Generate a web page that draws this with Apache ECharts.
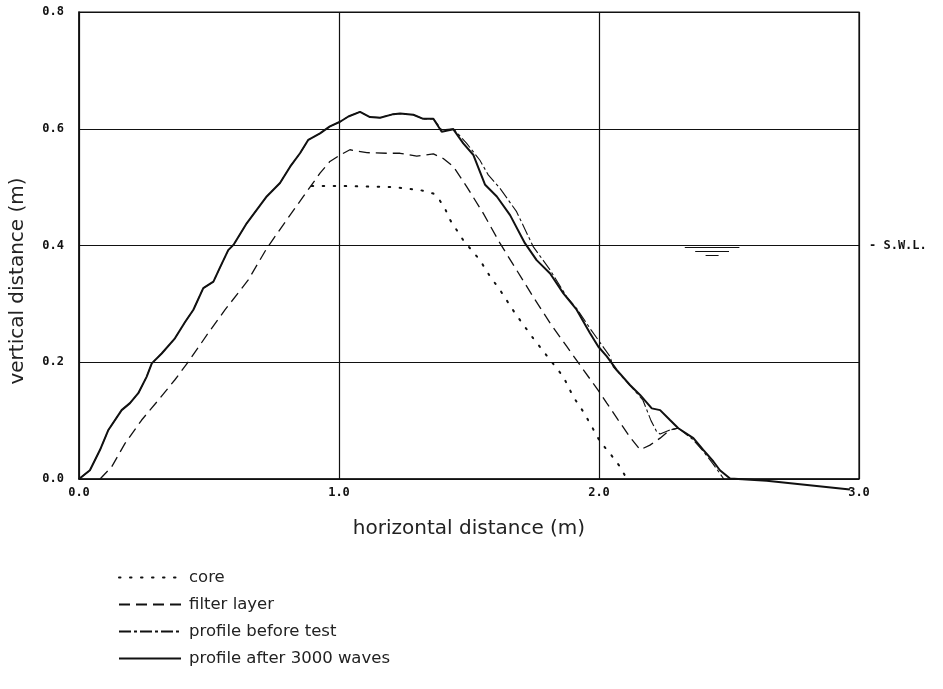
<!DOCTYPE html>
<html>
<head>
<meta charset="utf-8">
<script src="https://cdn.jsdelivr.net/npm/echarts@6/dist/echarts.min.js"></script>
<style>
html,body{margin:0;padding:0;background:#fff;}
#chart{width:943px;height:689px;}
</style>
</head>
<body>
<div id="chart"></div>
<script>
// ---- data (x in m, y in m) ----
var xTicks = [0, 1, 2, 3];
var yTicks = [0, 0.2, 0.4, 0.6, 0.8];
var seriesNames = ['core', 'filter layer', 'profile before test', 'profile after 3000 waves'];

var core = [[0.895,0.502],[1.0,0.502],[1.1,0.501],[1.209,0.5],[1.312,0.495],[1.363,0.489],[1.388,0.477],[1.408,0.463],[1.427,0.444],[1.478,0.409],[1.542,0.375],[1.581,0.347],[1.619,0.324],[1.677,0.284],[1.747,0.241],[1.812,0.204],[1.863,0.175],[1.901,0.141],[1.94,0.115],[1.972,0.09],[2.004,0.064],[2.042,0.044],[2.081,0.021],[2.107,0.0]];

var filterLayer = [[0.081,0],[0.126,0.021],[0.177,0.061],[0.241,0.101],[0.305,0.135],[0.369,0.17],[0.421,0.201],[0.497,0.25],[0.562,0.29],[0.651,0.341],[0.722,0.395],[0.799,0.444],[0.863,0.484],[0.927,0.524],[0.965,0.544],[1.004,0.555],[1.042,0.564],[1.107,0.559],[1.183,0.558],[1.235,0.558],[1.299,0.553],[1.363,0.557],[1.401,0.549],[1.44,0.535],[1.491,0.501],[1.555,0.455],[1.619,0.404],[1.683,0.358],[1.747,0.312],[1.812,0.267],[1.876,0.227],[1.94,0.187],[1.997,0.152],[2.03,0.13],[2.074,0.101],[2.119,0.072],[2.158,0.05],[2.196,0.058],[2.235,0.07],[2.273,0.084],[2.305,0.087]];

var beforeTest = [[0,0],[0.042,0.015],[0.081,0.05],[0.113,0.084],[0.164,0.118],[0.196,0.13],[0.228,0.147],[0.26,0.175],[0.28,0.198],[0.318,0.215],[0.369,0.241],[0.408,0.269],[0.44,0.29],[0.478,0.327],[0.517,0.338],[0.542,0.362],[0.574,0.392],[0.594,0.401],[0.645,0.438],[0.722,0.484],[0.773,0.507],[0.812,0.535],[0.85,0.558],[0.882,0.581],[0.927,0.592],[0.965,0.604],[1.004,0.612],[1.036,0.621],[1.081,0.629],[1.119,0.62],[1.158,0.619],[1.209,0.625],[1.235,0.626],[1.286,0.624],[1.324,0.617],[1.363,0.617],[1.395,0.598],[1.44,0.6],[1.491,0.575],[1.542,0.546],[1.574,0.521],[1.619,0.498],[1.683,0.458],[1.747,0.398],[1.812,0.358],[1.876,0.312],[1.914,0.292],[1.97,0.255],[2.042,0.21],[2.055,0.192],[2.12,0.16],[2.169,0.135],[2.2,0.1],[2.222,0.081],[2.235,0.077],[2.273,0.084],[2.305,0.087],[2.36,0.068],[2.4,0.048],[2.44,0.025],[2.48,0.0]];

var after3000 = [[0,0],[0.042,0.015],[0.081,0.05],[0.113,0.084],[0.164,0.118],[0.196,0.13],[0.228,0.147],[0.26,0.175],[0.28,0.198],[0.318,0.215],[0.369,0.241],[0.408,0.269],[0.44,0.29],[0.478,0.327],[0.517,0.338],[0.542,0.362],[0.574,0.392],[0.594,0.401],[0.645,0.438],[0.722,0.484],[0.773,0.507],[0.812,0.535],[0.85,0.558],[0.882,0.581],[0.927,0.592],[0.965,0.604],[1.004,0.612],[1.036,0.621],[1.081,0.629],[1.119,0.62],[1.158,0.619],[1.209,0.625],[1.235,0.626],[1.286,0.624],[1.324,0.617],[1.363,0.617],[1.395,0.595],[1.44,0.599],[1.478,0.575],[1.517,0.555],[1.562,0.504],[1.607,0.484],[1.658,0.452],[1.715,0.404],[1.76,0.375],[1.812,0.352],[1.863,0.318],[1.914,0.29],[1.965,0.25],[1.997,0.227],[2.03,0.21],[2.068,0.187],[2.119,0.161],[2.158,0.144],[2.203,0.121],[2.235,0.118],[2.273,0.101],[2.305,0.087],[2.363,0.07],[2.401,0.05],[2.44,0.03],[2.465,0.015],[2.504,0.001],[2.645,-0.003],[2.965,-0.018]];

var swlLevel = 0.4;
var swlLabel = '- S.W.L.';
// still-water-level symbol segments (data coordinates)
var swlSymbol = [
  [[2.33,0.397],[2.54,0.397]],
  [[2.37,0.390],[2.50,0.390]],
  [[2.41,0.383],[2.46,0.383]]
];

var xName = 'horizontal distance (m)';
var yName = 'vertical distance (m)';

// ---- chart ----
var chart = echarts.init(document.getElementById('chart'), null, {renderer:'canvas'});
var ink = '#111';
var textInk = '#222';
var tickFont = {color: ink, fontFamily: 'DejaVu Sans Mono', fontWeight: 'bold', fontSize: 12};
var nameFont = {fontFamily: 'DejaVu Sans', fontWeight: 'normal', fontSize: 20, color: textInk};

var option = {
  backgroundColor: '#fff',
  animation: false,
  grid: {left: 79, right: 84, top: 12, bottom: 210, show: true, borderColor: ink, borderWidth: 1.2},
  xAxis: {
    type: 'value', min: xTicks[0], max: xTicks[xTicks.length-1], interval: 1,
    name: xName, nameLocation: 'middle', nameGap: 40,
    nameTextStyle: nameFont,
    axisLine: {show: true, onZero: false, lineStyle: {color: ink, width: 1.5}},
    axisTick: {show: false},
    axisLabel: Object.assign({margin: 8, formatter: function(v){return v.toFixed(1);}}, tickFont),
    splitLine: {show: true, lineStyle: {color: ink, width: 1.2}}
  },
  yAxis: {
    type: 'value', min: yTicks[0], max: yTicks[yTicks.length-1], interval: 0.2,
    axisLine: {show: true, lineStyle: {color: ink, width: 1.5}},
    axisTick: {show: false},
    axisLabel: Object.assign({margin: 15, formatter: function(v){return v.toFixed(1);}}, tickFont),
    splitLine: {show: true, lineStyle: {color: ink, width: 1.2}}
  },
  legend: {
    orient: 'vertical', left: 113, top: 564,
    itemWidth: 62, itemHeight: 14, itemGap: 10,
    data: seriesNames,
    itemStyle: {opacity: 0},
    textStyle: {fontFamily: 'DejaVu Sans', fontWeight: 'normal', fontSize: 16.5, color: textInk, padding: [0,0,0,3]}
  },
  graphic: [{
    type: 'text', x: 18, y: 281, rotation: Math.PI/2,
    style: {text: yName, fontFamily: 'DejaVu Sans', fontWeight: 'normal', fontSize: 20, fill: textInk, align: 'center', verticalAlign: 'middle'}
  }],
  series: [
    {name: seriesNames[0], type: 'line', data: core, symbol: 'none', clip: false,
     lineStyle: {color: ink, width: 2, type: [1.5, 9.5], cap: 'round'}, itemStyle: {color: ink}},
    {name: seriesNames[1], type: 'line', data: filterLayer, symbol: 'none', clip: false,
     lineStyle: {color: ink, width: 1.3, type: [11, 6]}, itemStyle: {color: ink}},
    {name: seriesNames[2], type: 'line', data: beforeTest, symbol: 'none', clip: false,
     lineStyle: {color: ink, width: 1.1, type: [12, 3, 3, 3]}, itemStyle: {color: ink}},
    {name: seriesNames[3], type: 'line', data: after3000, symbol: 'none', clip: false,
     lineStyle: {color: ink, width: 2}, itemStyle: {color: ink},
     markLine: {
       silent: true, symbol: 'none',
       lineStyle: {color: 'rgba(0,0,0,0)', width: 1, type: 'solid'},
       label: {show: true, position: 'end', formatter: swlLabel, distance: 10,
               fontFamily: 'DejaVu Sans Mono', fontWeight: 'bold', fontSize: 12, color: ink},
       data: [{yAxis: swlLevel}]
     }},
    {name: 'swl', type: 'lines', coordinateSystem: 'cartesian2d', silent: true,
     data: swlSymbol.map(function(s){return {coords: s};}),
     lineStyle: {color: ink, width: 1, opacity: 1}}
  ]
};
chart.setOption(option);
</script>
</body>
</html>
